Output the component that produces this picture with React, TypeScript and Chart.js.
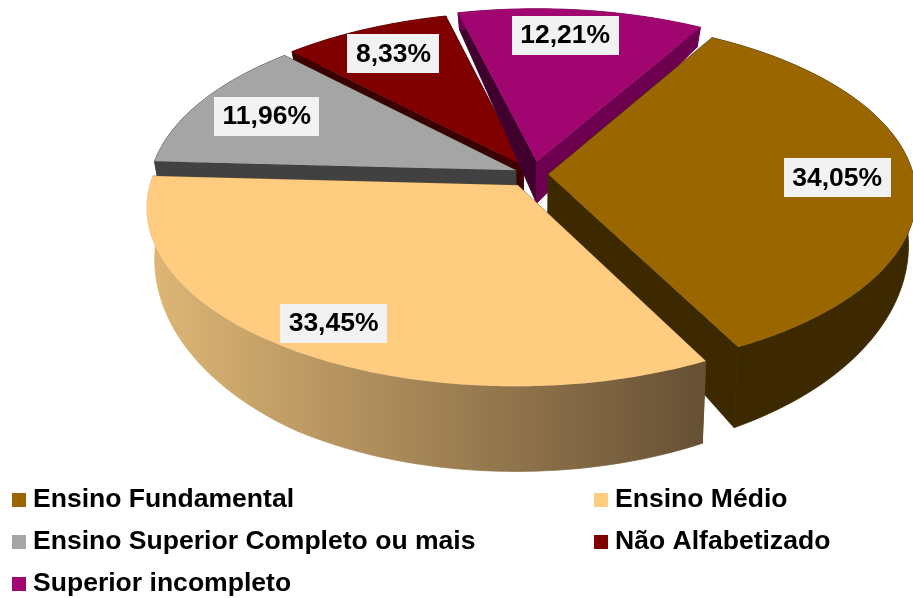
import React, { useEffect, useRef } from "react";
import { Chart, registerables } from "chart.js";

Chart.register(...registerables);

const categories = [
  "Ensino Fundamental",
  "Ensino Médio",
  "Ensino Superior Completo ou mais",
  "Não Alfabetizado",
  "Superior incompleto",
];
const shares = [34.05, 33.45, 11.96, 8.33, 12.21];
const valueLabels = ["34,05%", "33,45%", "11,96%", "8,33%", "12,21%"];

const topColors = ["#996600", "#FFCC80", "#A5A5A5", "#800000", "#A10570"];
const wallStartColors = ["#3D2900", "#665034", "#414141", "#3B0000", "#40002D"];
const wallEndColors = ["#3D2900", "#665034", "#414141", "#400000", "#6E0050"];
const outerGradient = ["#DEB776", "#665034"];
const explodeOffsets = [12, 22, 15, 16, 21];
const drawOrder = [3, 4, 2, 0, 1];
const labelRadii = [0.79, 0.845, 0.783, 0.805, 0.815];
const labelAngleShift = [0, -0.005, 0, 0, -0.033];

const VIEW = { cx: 533, cy: 174, rx: 365, ry: 174, persp: 0.12 };
const DEPTH_KNOTS = [
  [12, 17],
  [27, 20],
  [163, 42],
  [349, 81],
  [385, 85],
  [430, 89],
];
const depthAt = (y: number) => {
  for (let i = 1; i < DEPTH_KNOTS.length; i++) {
    const [y0, d0] = DEPTH_KNOTS[i - 1];
    const [y1, d1] = DEPTH_KNOTS[i];
    if (y <= y1 || i === DEPTH_KNOTS.length - 1) return d0 + ((y - y0) * (d1 - d0)) / (y1 - y0);
  }
  return 0;
};
const project = (u: number, v: number) => {
  const s = 1 / (1 - VIEW.persp * v);
  return { x: VIEW.cx + VIEW.rx * u * s, y: VIEW.cy + VIEW.ry * v * s };
};
const drop = (p: { x: number; y: number }) => ({
  x: VIEW.cx + (p.x - VIEW.cx) * 0.98,
  y: p.y + depthAt(p.y),
});

const poly = (ctx: CanvasRenderingContext2D, pts: { x: number; y: number }[], fill: any, seal = false) => {
  ctx.beginPath();
  pts.forEach((p, i) => (i ? ctx.lineTo(p.x, p.y) : ctx.moveTo(p.x, p.y)));
  ctx.closePath();
  ctx.fillStyle = fill;
  ctx.fill();
  if (seal) {
    ctx.strokeStyle = fill;
    ctx.lineWidth = 0.8;
    ctx.lineJoin = "round";
    ctx.stroke();
  }
};

const geometry = (el: any, offset: number) => {
  const { startAngle, endAngle, outerRadius } = el.getProps(["startAngle", "endAngle", "outerRadius"], true);
  const mid = (startAngle + endAngle) / 2;
  const e = offset / outerRadius;
  const at = (a: number, f: number) => project(e * Math.cos(mid) + f * Math.cos(a), e * Math.sin(mid) + f * Math.sin(a));
  return { startAngle, endAngle, mid, at };
};

const pie3d = {
  id: "pie3d",
  beforeDatasetDraw(chart: any) {
    const ctx: CanvasRenderingContext2D = chart.ctx;
    const meta = chart.getDatasetMeta(0);
    drawOrder.forEach((i) => {
      const { startAngle, endAngle, at } = geometry(meta.data[i], explodeOffsets[i]);
      const steps = Math.max(8, Math.ceil(((endAngle - startAngle) * 180) / Math.PI));
      const arc: { x: number; y: number }[] = [];
      for (let k = 0; k <= steps; k++) arc.push(at(startAngle + ((endAngle - startAngle) * k) / steps, 1));
      const apex = at(startAngle, 0);
      const first = arc[0];
      const last = arc[arc.length - 1];
      poly(ctx, [apex, first, drop(first), drop(apex)], wallStartColors[i], true);
      poly(ctx, [apex, last, drop(last), drop(apex)], wallEndColors[i], true);
      let outer: any = wallEndColors[i];
      if (i === 1) {
        outer = ctx.createLinearGradient(150, 0, 705, 0);
        outer.addColorStop(0, outerGradient[0]);
        outer.addColorStop(1, outerGradient[1]);
      }
      poly(ctx, [...arc, ...arc.slice().reverse().map(drop)], outer, true);
      poly(ctx, [apex, ...arc], topColors[i]);
    });
    return false;
  },
  afterDraw(chart: any) {
    const ctx: CanvasRenderingContext2D = chart.ctx;
    const meta = chart.getDatasetMeta(0);
    ctx.save();
    ctx.textBaseline = "middle";
    ctx.font = 'bold 26.5px "Liberation Sans", Arial, sans-serif';
    ctx.textAlign = "center";
    valueLabels.forEach((t, i) => {
      const { mid, at } = geometry(meta.data[i], explodeOffsets[i]);
      const p = at(mid + labelAngleShift[i], labelRadii[i]);
      const w = ctx.measureText(t).width + 17;
      ctx.fillStyle = "#F2F2F2";
      ctx.fillRect(Math.round(p.x - w / 2), Math.round(p.y - 19.5), Math.round(w), 39);
      ctx.fillStyle = "#000000";
      ctx.fillText(t, p.x, p.y + 1);
    });
    ctx.font = 'bold 26.55px "Liberation Sans", Arial, sans-serif';
    ctx.textAlign = "left";
    categories.forEach((t, i) => {
      const col = i % 2;
      const row = Math.floor(i / 2);
      const x = col ? 594 : 12;
      const y = 499 + row * 42;
      ctx.fillStyle = topColors[i];
      ctx.fillRect(x, y - 6, 14, 14);
      ctx.fillStyle = "#000000";
      ctx.fillText(t, x + 21, y + 1);
    });
    ctx.restore();
  },
};

export default function App() {
  const ref = useRef<HTMLCanvasElement>(null);
  useEffect(() => {
    const chart = new Chart(ref.current as HTMLCanvasElement, {
      type: "pie",
      data: {
        labels: categories,
        datasets: [
          {
            data: shares,
            backgroundColor: topColors,
            borderWidth: 0,
            offset: explodeOffsets,
          },
        ],
      },
      options: {
        animation: false,
        responsive: false,
        rotation: 30,
        layout: { padding: 0 },
        plugins: { legend: { display: false }, tooltip: { enabled: false } },
      },
      plugins: [pie3d as any],
    } as any);
    return () => chart.destroy();
  }, []);
  return (
    <div style={{ position: "absolute", left: 0, top: 0, width: 913, height: 598, background: "#fff" }}>
      <canvas ref={ref} width={913} height={598} style={{ display: "block" }} />
    </div>
  );
}
